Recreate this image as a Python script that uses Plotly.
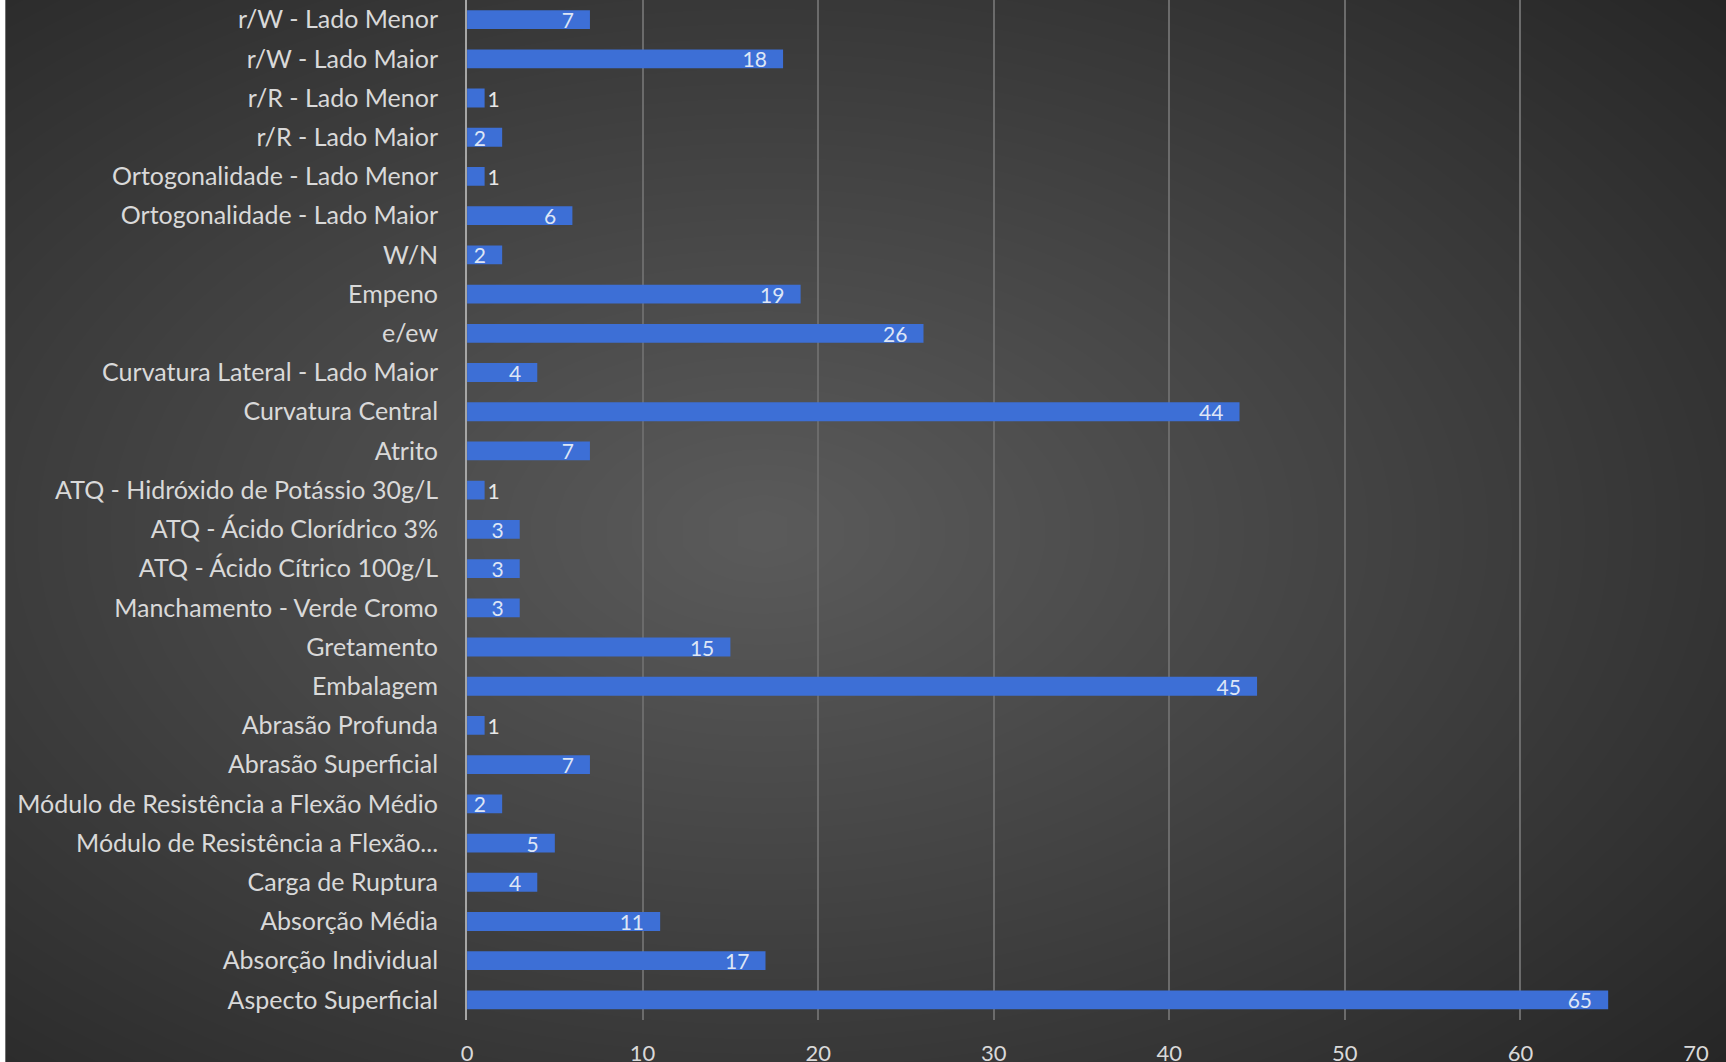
import numpy as np
import plotly.graph_objects as go

categories = [
    "Aspecto Superficial", "Absorção Individual", "Absorção Média", "Carga de Ruptura",
    "Módulo de Resistência a Flexão...", "Módulo de Resistência a Flexão Médio",
    "Abrasão Superficial", "Abrasão Profunda", "Embalagem", "Gretamento",
    "Manchamento - Verde Cromo", "ATQ - Ácido Cítrico 100g/L", "ATQ - Ácido Clorídrico 3%",
    "ATQ - Hidróxido de Potássio 30g/L", "Atrito", "Curvatura Central",
    "Curvatura Lateral - Lado Maior", "e/ew", "Empeno", "W/N",
    "Ortogonalidade - Lado Maior", "Ortogonalidade - Lado Menor", "r/R - Lado Maior",
    "r/R - Lado Menor", "r/W - Lado Maior", "r/W - Lado Menor",
]
values = [65, 17, 11, 4, 5, 2, 7, 1, 45, 15, 3, 3, 3, 1, 7, 44, 4, 26, 19, 2, 6, 1, 2, 1, 18, 7]
x_ticks = [0, 10, 20, 30, 40, 50, 60, 70]

FONT = "Lato"
LABEL = "#d9d9d9"

fig = go.Figure()

# background radial gradient (styling only)
gx = np.linspace(0, 1, 60)
gy = np.linspace(0, 1, 40)
GX, GY = np.meshgrid(gx, gy)
d = np.sqrt(((GX - 0.44) / 0.75) ** 2 + ((GY - 0.5) / 0.75) ** 2)
fig.add_trace(go.Heatmap(
    x=gx, y=gy, z=d, zsmooth="best", showscale=False, hoverinfo="skip",
    colorscale=[[0, "#5a5a5a"], [0.45, "#434343"], [1, "#262626"]],
    xaxis="x", yaxis="y",
))

textpos = ["outside" if v == 1 else "inside" for v in values]
labels = [str(v) if v == 1 else str(v) + "\u2002\u2009" for v in values]
fig.add_trace(go.Bar(
    x=values, y=categories, orientation="h",
    marker=dict(color="#3d6fd6", line=dict(width=0)),
    text=labels, textposition=textpos, textangle=0,
    insidetextanchor="end", constraintext="none", cliponaxis=False,
    textfont=dict(family=FONT, size=21, color="#dde6f6"),
    outsidetextfont=dict(family=FONT, size=21, color="#e8e8e8"),
    xaxis="x2", yaxis="y2",
))

fig.update_layout(
    width=1726, height=1062,
    margin=dict(l=0, r=0, t=0, b=0, autoexpand=False),
    paper_bgcolor="white", plot_bgcolor="rgba(0,0,0,0)",
    showlegend=False, bargap=0.52,
    font=dict(family=FONT, color=LABEL),
    xaxis=dict(domain=[0.003, 1], range=[0, 1], visible=False, fixedrange=True),
    yaxis=dict(domain=[0, 1], range=[0, 1], visible=False, fixedrange=True),
    xaxis2=dict(domain=[0.2706, 0.9826], range=[0, 70], anchor="y2", automargin=False,
                tickvals=x_ticks, showgrid=True, gridcolor="#6b6b6b", gridwidth=1.5,
                zeroline=False, showline=False,
                ticks="outside", ticklen=14, tickcolor="rgba(0,0,0,0)",
                tickfont=dict(family=FONT, size=22, color=LABEL)),
    yaxis2=dict(domain=[0.04, 1.0], anchor="x2", range=[-0.5, 25.5], automargin=False,
                categoryorder="array", categoryarray=categories,
                showgrid=False, zeroline=False,
                showline=True, linecolor="#a6a6a6", linewidth=2,
                ticks="outside", ticklen=22, tickcolor="rgba(0,0,0,0)",
                tickfont=dict(family=FONT, size=25, color=LABEL)),
)

fig.write_html("out.html", config={"displayModeBar": False},
               post_script="document.body.style.margin='0';document.body.style.overflow='hidden';")
